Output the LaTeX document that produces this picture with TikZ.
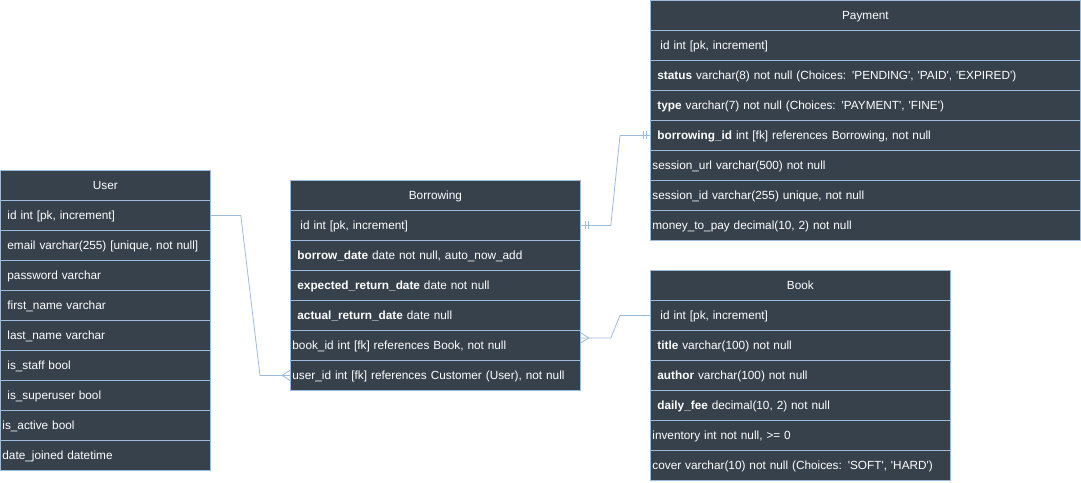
\documentclass[tikz,border=0pt]{standalone}
\usepackage{fontspec}
\setmainfont{Liberation Sans}[Ligatures=TeXOff]
\definecolor{fillc}{HTML}{36414C}
\definecolor{edgec}{HTML}{9DBCDC}
\newcommand\rowfont{\fontsize{11.8}{14}\selectfont}
\tikzset{
  cell/.style={draw=edgec, fill=fillc, text=white, font=\rowfont, minimum height=30pt,
    inner ysep=0pt, anchor=north west, line width=0.8pt, text height=10pt, text depth=1.5pt},
  fld/.code 2 args={\pgfmathsetmacro\myTW{#1-2*#2}\tikzset{cell, minimum width=#1pt, inner xsep=#2pt, text width=\myTW pt, align=left}},
  hdr/.code={\tikzset{cell, minimum width=#1pt, inner xsep=0pt, align=center}},
  link/.style={draw=edgec, line width=0.8pt},
}
\begin{document}
\begin{tikzpicture}[x=1pt, y=-1pt]
\useasboundingbox (0,0) rectangle (1081,482);
% User
\node[hdr=210] (u0) at (0,170) {User};
\node[fld={210}{7}] (u1) at (0,200) {id int [pk, increment]};
\node[fld={210}{7}] (u2) at (0,230) {email varchar(255) [unique, not null]};
\node[fld={210}{7}] (u3) at (0,260) {password varchar};
\node[fld={210}{7}] (u4) at (0,290) {first\_name varchar};
\node[fld={210}{7}] (u5) at (0,320) {last\_name varchar};
\node[fld={210}{7}] (u6) at (0,350) {is\_staff bool};
\node[fld={210}{7}] (u7) at (0,380) {is\_superuser bool};
\node[fld={210}{2}] (u8) at (0,410) {is\_active bool};
\node[fld={210}{2}] (u9) at (0,440) {date\_joined datetime};
% Borrowing
\node[hdr=290] (b0) at (290,180) {Borrowing};
\node[fld={290}{10}] (b1) at (290,210) {id int [pk, increment]};
\node[fld={290}{7}] (b2) at (290,240) {\textbf{borrow\_date} date not null, auto\_now\_add};
\node[fld={290}{7}] (b3) at (290,270) {\textbf{expected\_return\_date} date not null};
\node[fld={290}{7}] (b4) at (290,300) {\textbf{actual\_return\_date} date null};
\node[fld={290}{2}] (b5) at (290,330) {book\_id int [fk] references Book, not null};
\node[fld={290}{2}] (b6) at (290,360) {user\_id int [fk] references Customer (User), not null};
% Payment
\node[hdr=430] (p0) at (650,0) {Payment};
\node[fld={430}{10}] (p1) at (650,30) {id int [pk, increment]};
\node[fld={430}{7}] (p2) at (650,60) {\textbf{status} varchar(8) not null (Choices: 'PENDING', 'PAID', 'EXPIRED')};
\node[fld={430}{7}] (p3) at (650,90) {\textbf{type} varchar(7) not null (Choices: 'PAYMENT', 'FINE')};
\node[fld={430}{7}] (p4) at (650,120) {\textbf{borrowing\_id} int [fk] references Borrowing, not null};
\node[fld={430}{2}] (p5) at (650,150) {session\_url varchar(500) not null};
\node[fld={430}{2}] (p6) at (650,180) {session\_id varchar(255) unique, not null};
\node[fld={430}{2}] (p7) at (650,210) {money\_to\_pay decimal(10, 2) not null};
% Book
\node[hdr=300] (k0) at (650,270) {Book};
\node[fld={300}{10}] (k1) at (650,300) {id int [pk, increment]};
\node[fld={300}{7}] (k2) at (650,330) {\textbf{title} varchar(100) not null};
\node[fld={300}{7}] (k3) at (650,360) {\textbf{author} varchar(100) not null};
\node[fld={300}{7}] (k4) at (650,390) {\textbf{daily\_fee} decimal(10, 2) not null};
\node[fld={300}{2}] (k5) at (650,420) {inventory int not null, >= 0};
\node[fld={300}{2}] (k6) at (650,450) {cover varchar(10) not null (Choices: 'SOFT', 'HARD')};
% User -> Borrowing (many)
\draw[link] (u1.east) -- ([xshift=30pt]u1.east) -- ([xshift=-30pt]b6.west) -- (b6.west);
\draw[link] ([yshift=5pt]b6.west) -- ([xshift=-8pt]b6.west) -- ([yshift=-5pt]b6.west);
% Borrowing -> Payment (one-one)
\draw[link] (b1.east) -- ([xshift=30pt]b1.east) -- ([xshift=-30pt]p4.west) -- (p4.west);
\draw[link] ([xshift=5pt,yshift=4pt]b1.east) -- ([xshift=5pt,yshift=-4pt]b1.east);
\draw[link] ([xshift=8pt,yshift=4pt]b1.east) -- ([xshift=8pt,yshift=-4pt]b1.east);
\draw[link] ([xshift=-7pt,yshift=4pt]p4.west) -- ([xshift=-7pt,yshift=-4pt]p4.west);
\draw[link] ([xshift=-4pt,yshift=4pt]p4.west) -- ([xshift=-4pt,yshift=-4pt]p4.west);
% Borrowing -> Book (many)
\coordinate (bk) at ([yshift=7.5pt]b5.east);
\draw[link] (bk) -- ([xshift=30pt]bk) -- ([xshift=-30pt]k1.west) -- (k1.west);
\draw[link] ([yshift=5pt]bk) -- ([xshift=8pt]bk) -- ([yshift=-5pt]bk);
\end{tikzpicture}
\end{document}
